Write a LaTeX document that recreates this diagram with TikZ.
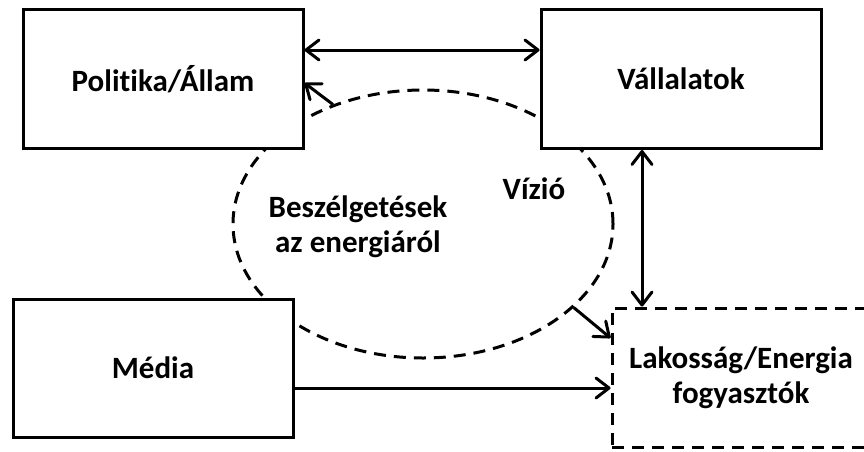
\documentclass[tikz,border=0pt]{standalone}
\usepackage{fontspec}
\setmainfont{Carlito}[RawFeature={-liga;-calt;-clig;-rlig}]
\usetikzlibrary{arrows.meta,shapes.geometric}
\begin{document}
\begin{tikzpicture}[x=1pt,y=-1pt,
  box/.style={draw,line width=3pt,fill=white,minimum width=280pt,minimum height=139pt,inner sep=0pt,align=center,font=\fontsize{31}{35}\selectfont\bfseries},
  dbox/.style={box,dash pattern=on 12pt off 8pt,minimum width=258pt},
  lbl/.style={align=center,inner sep=0pt,font=\fontsize{31}{35}\selectfont\bfseries},
  arr/.style={line width=3pt,-{Straight Barb[length=13pt,width=20pt,round]}},
  darr/.style={line width=3pt,{Straight Barb[length=13pt,width=20pt,round]}-{Straight Barb[length=13pt,width=20pt,round]}}]
\useasboundingbox (0,0) rectangle (864,451);
\clip (0,0) rectangle (864,451);
\node[ellipse,draw,line width=3pt,dash pattern=on 12pt off 8pt,minimum width=380pt,minimum height=268pt,inner sep=0pt] (ell) at (423,224) {};
\node[lbl] (conv) at (358,227) {Beszélgetések\\az energiáról};
\node[lbl] (viz) at (534,189) {Vízió};
\node[box] (pol) at (163,79) {Politika/Állam};
\node[box] (val) at (681,79) {Vállalatok};
\node[box,minimum height=138pt] (med) at (153,368) {Média};
\node[dbox] (lak) at (741,377.5) {Lakosság/Energia\\fogyasztók};
\coordinate (ytop) at (0,50);
\coordinate (xv) at (642,0);
\coordinate (ymed) at (0,388);
\coordinate (ypol) at (0,83);
\coordinate (ylak) at (0,338);
\draw[darr] (pol.east |- ytop) -- (val.west |- ytop);
\draw[darr] (val.south -| xv) -- (lak.north -| xv);
\draw[arr] (med.east |- ymed) -- (lak.west |- ymed);
\draw[arr] (ell.127) -- (pol.east |- ypol);
\draw[arr] (ell.-29) -- (lak.west |- ylak);
\end{tikzpicture}
\end{document}
